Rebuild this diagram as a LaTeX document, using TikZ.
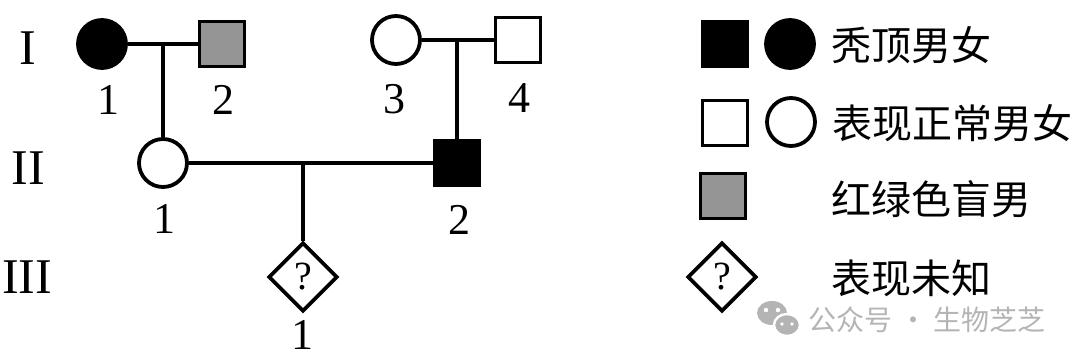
\documentclass[tikz,border=0pt]{standalone}
\usepackage{fontspec}
\setmainfont{Liberation Serif}
\newfontfamily\cjk{Noto Sans CJK SC}
\usetikzlibrary{shapes.geometric}
\definecolor{cbgray}{HTML}{959595}
\definecolor{wmgray}{HTML}{B4B4B4}
\begin{document}
\begin{tikzpicture}[x=0.5pt,y=-0.5pt, line width=1.9pt,
  fem/.style={circle,draw,minimum size=24pt,inner sep=0},
  mal/.style={rectangle,draw,minimum size=22.5pt,inner sep=0},
  unk/.style={diamond,draw,minimum width=34.5pt,minimum height=34.5pt,inner sep=0,font=\fontsize{20}{20}\selectfont},
  num/.style={font=\fontsize{22}{22}\selectfont,inner sep=0},
  gen/.style={font=\fontsize{25}{25}\selectfont,inner sep=0},
  leg/.style={font=\cjk\fontsize{20}{20}\selectfont,anchor=west,inner sep=0}
]
\useasboundingbox (0,0) rectangle (1080,363);

% generation labels
\node[gen] (g1) at (28,48) {I};
\node[gen] (g2) at (28,168) {II};
\node[gen] (g3) at (27,277) {III};

% generation I
\node[fem,fill=black] (I1) at (102,44) {};
\node[mal,fill=cbgray] (I2) at (222,44) {};
\node[fem] (I3) at (396,40) {};
\node[mal] (I4) at (518,40) {};
\node[num] (lI1) at (108,100) {1};
\node[num] (lI2) at (223,100) {2};
\node[num] (lI3) at (394,99) {3};
\node[num] (lI4) at (519,98) {4};

% generation II
\node[fem] (II1) at (163,163) {};
\node[mal,fill=black] (II2) at (457,163) {};
\node[num] (lII1) at (164,219) {1};
\node[num] (lII2) at (459,220) {2};

% generation III
\node[unk] (III1) at (303,277) {?};
\node[num] (lIII1) at (302,335) {1};

% connectors
\coordinate (m1) at (163,44);
\coordinate (m2) at (457,40);
\coordinate (m3) at (303,163);
\draw (I1) -- (I2);
\draw (m1) -- (II1.north);
\draw (I3) -- (I4);
\draw (m2) -- (II2.north);
\draw (II1) -- (II2);
\draw (m3) -- (III1.north);

% legend
\node[mal,fill=black] (k1) at (725,44) {};
\node[fem,fill=black] (k2) at (790,44) {};
\node[leg] (t1) at (830,45) {秃顶男女};
\node[mal] (k3) at (725,123) {};
\node[fem] (k4) at (791,122) {};
\node[leg] (t2) at (831,123) {表现正常男女};
\node[mal,fill=cbgray] (k5) at (723,196) {};
\node[leg] (t3) at (830,199) {红绿色盲男};
\node[unk] (k6) at (722,277) {?};
\node[leg] (t4) at (830,278) {表现未知};

% watermark
\fill[wmgray] (772,313) ellipse [x radius=15, y radius=12];
\draw[white,line width=1.2pt,fill=wmgray] (787,325) ellipse [x radius=13, y radius=11];
\fill[white] (766,310) circle (2.2) (778,310) circle (2.2) (782,324) circle (1.8) (792,324) circle (1.8);
\node[font=\cjk\fontsize{14}{14}\selectfont,text=wmgray,anchor=west,inner sep=0] (wm) at (807,320) {公众号 · 生物芝芝};
\end{tikzpicture}
\end{document}
